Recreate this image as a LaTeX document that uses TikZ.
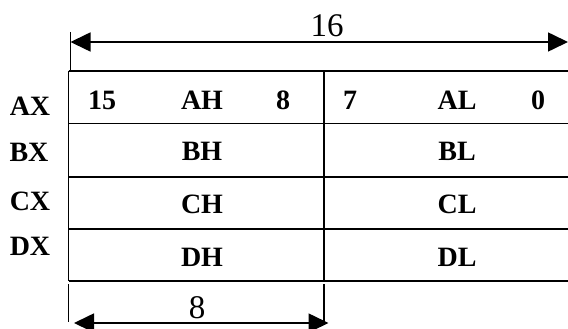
\documentclass[tikz,border=0pt]{standalone}
\usepackage{fontspec}
\setmainfont{Liberation Serif}
\usetikzlibrary{arrows.meta}
\begin{document}
\begin{tikzpicture}[x=1pt,y=-1pt,
  grid/.style={line width=1.6pt},
  tick/.style={line width=1.1pt},
  dim/.style={line width=1.6pt,{Triangle[length=20pt,width=19pt]}-{Triangle[length=20pt,width=19pt]}},
  reg/.style={font=\fontsize{28}{28}\selectfont\bfseries,inner sep=0pt,anchor=center},
  num/.style={font=\fontsize{33}{33}\selectfont,inner sep=0pt,anchor=center}]
\useasboundingbox (0,0) rectangle (568,329);

% register table
\coordinate (tl) at (68.5,71);
\coordinate (tr) at (568,71);
\coordinate (bl) at (68.5,281);
\coordinate (mid top) at (324,71);
\coordinate (mid bot) at (324,281);
\draw[grid] (tl) -- (tr);
\draw[grid] (68.5,123.5) -- (568,123.5);
\draw[grid] (68.5,177) -- (568,177);
\draw[grid] (68.5,229) -- (568,229);
\draw[grid] (bl) -- (568,281);
\draw[tick] (tl) -- (bl);
\draw[tick] (mid top) -- (mid bot);

% 16-bit width
\coordinate (t16a) at (70.5,32);
\coordinate (t16b) at (70.5,71);
\draw[tick] (t16a) -- (t16b);
\coordinate (a16l) at (70.5,42);
\coordinate (a16r) at (568,42);
\draw[dim] (a16l) -- (a16r);
\node[num] (w16) at (327,26) {16};

% 8-bit width
\coordinate (t8la) at (68.5,284);
\coordinate (t8lb) at (68.5,322);
\coordinate (t8ra) at (324,284);
\coordinate (t8rb) at (324,323);
\draw[tick] (t8la) -- (t8lb);
\draw[tick] (t8ra) -- (t8rb);
\coordinate (a8l) at (74,323);
\coordinate (a8r) at (328.5,323);
\draw[dim] (a8l) -- (a8r);
\node[num] (w8) at (197,308) {8};

% register names
\node[reg] (ax) at (30,106) {AX};
\node[reg] (bx) at (29,152) {BX};
\node[reg] (cx) at (30,201) {CX};
\node[reg] (dx) at (30,246) {DX};

% first row with bit numbers
\node[reg] (b15) at (102,100) {15};
\node[reg] (ah) at (202,100) {AH};
\node[reg] (b8) at (283,100) {8};
\node[reg] (b7) at (350,100) {7};
\node[reg] (al) at (457,100) {AL};
\node[reg] (b0) at (538,100) {0};

% remaining halves
\node[reg] (bh) at (202,151.5) {BH};
\node[reg] (bl8) at (457,151.5) {BL};
\node[reg] (ch) at (202,204) {CH};
\node[reg] (cl) at (457,204) {CL};
\node[reg] (dh) at (202,257.5) {DH};
\node[reg] (dl) at (457,257.5) {DL};
\end{tikzpicture}
\end{document}
